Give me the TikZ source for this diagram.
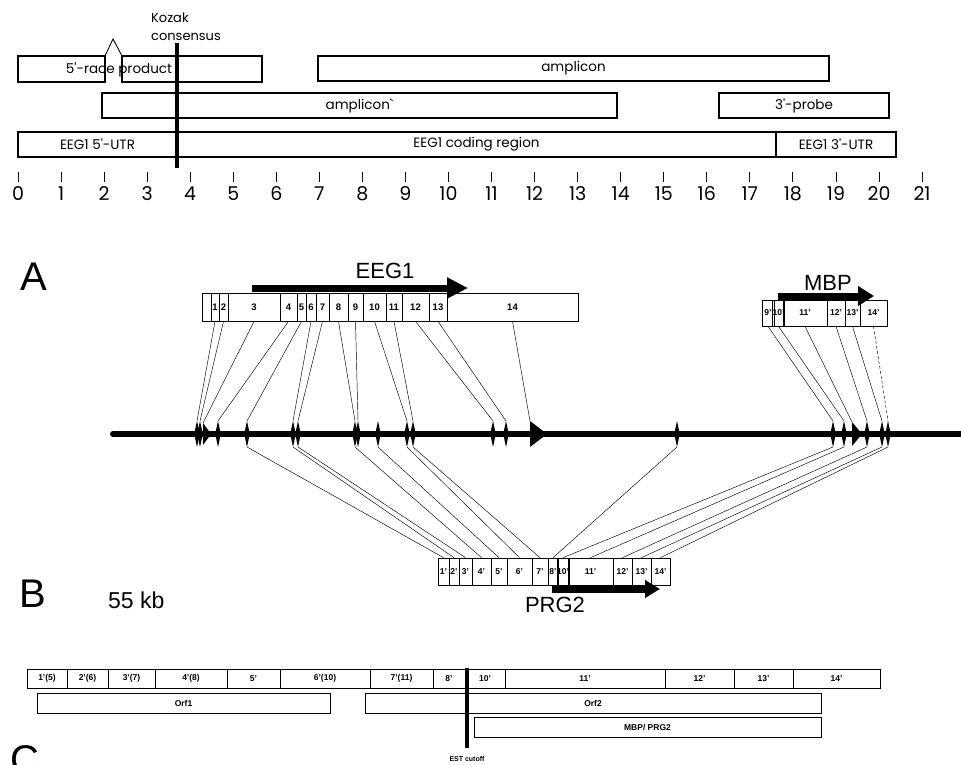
\documentclass[tikz,border=0pt]{standalone}
\usepackage{fontspec}
\setmainfont{Liberation Sans}
\newfontfamily\gothic{Poppins}
\usetikzlibrary{arrows.meta,positioning,calc}

\begin{document}
\begin{tikzpicture}[
    x=1pt, y=-1pt,
    every node/.style={inner sep=0pt},
    mapbox/.style={
        draw,
        line width=1.2pt,
        minimum height=25pt,
        font=\gothic\fontsize{13.5}{14}\selectfont
    },
    seg/.style={
        draw,
        line width=0.7pt,
        minimum height=28pt,
        font=\bfseries\fontsize{9.5}{10}\selectfont
    },
    pseg/.style={
        draw,
        line width=0.7pt,
        minimum height=27pt,
        font=\bfseries\fontsize{8.5}{9}\selectfont
    },
    cseg/.style={
        draw,
        line width=0.8pt,
        minimum height=19pt,
        font=\bfseries\fontsize{8.5}{9}\selectfont
    },
    link/.style={line width=0.45pt},
    num/.style={font=\gothic\fontsize{19}{19}\selectfont},
    panel/.style={font=\fontsize{40}{40}\selectfont},
    genename/.style={font=\fontsize{22}{22}\selectfont},
    fat/.style={line width=7pt, -{Triangle[length=21pt,width=20pt]}}
]
\useasboundingbox (0,0) rectangle (961,765);

% transcript map with scale
\draw[line width=1.2pt] (105,56) -- (18,56) -- (18,82) -- (105,82) -- cycle;
\draw[line width=1.2pt] (122,56) -- (262,56) -- (262,82) -- (122,82) -- cycle;
\draw[line width=0.9pt] (105,56) -- (113,39) -- (122,56);
\node[font=\gothic\fontsize{13.5}{14}\selectfont] (race) at (119,70) {5'-race product};

\node[mapbox, minimum width=511pt] (amp) at (573.5,68.5) {amplicon};
\node[mapbox, minimum width=515pt] (ampb) at (359.5,105.5) {amplicon\textasciigrave};
\node[mapbox, minimum width=170pt] (probe) at (804,105.5) {3'-probe};
\node[mapbox, minimum width=159pt] (utr5) at (97.5,144.5) {EEG1 5'-UTR};
\node[mapbox, minimum width=599pt] (coding) at (476.5,144.5) {EEG1 coding region};
\node[mapbox, minimum width=120pt] (utr3) at (836,144.5) {EEG1 3'-UTR};

\coordinate (kzT) at (177,43);
\coordinate (kzB) at (177,168);
\draw[line width=4.5pt] (kzT) -- (kzB);
\node[anchor=west, align=left, font=\gothic\fontsize{13}{18}\selectfont] (kozak) at (151,27)
{Kozak\\consensus};

\foreach \k in {0,...,21} {
    \draw[line width=0.9pt] ({18+43.05*\k},172) -- ++(0,10);
    \node[num] (n\k) at ({18+43.05*\k},194) {\k};
}

% panel letters
\node[panel] (lblA) at (34,277) {A};
\node[panel] (lblB) at (33,594) {B};
\node[panel] (lblC) at (25,760) {C};
\node[font=\fontsize{23}{23}\selectfont, anchor=west] (kb) at (108,600) {55 kb};

% EEG1 exons
\foreach \xa/\xb/\lab/\n in {202/211//s0, 211/219/1/s1, 219/228/2/s2, 228/280/3/s3,
    280/297/4/s4, 297/306/5/s5, 306/316/6/s6, 316/329/7/s7, 329/348/8/s8,
    348/363/9/s9, 363/386/10/s10, 386/402/11/s11, 402/429/12/s12,
    429/447/13/s13, 447/578/14/s14}
    \node[seg, minimum width={(\xb-\xa)*1pt}] (\n) at ({(\xa+\xb)/2},307) {\lab};
\coordinate (eegA) at (252,288);
\coordinate (eegB) at (468,288);
\draw[fat] (eegA) -- (eegB);
\node[genename] (eeg) at (385,271) {EEG1};

% MBP exons
\foreach \xa/\xb/\lab/\n in {762/774/9'/u9, 774/783/10'/u10, 783/827/11'/u11,
    827/845/12'/u12, 845/860/13'/u13, 860/887/14'/u14}
    \node[pseg, minimum width={(\xb-\xa)*1pt}, minimum height=26pt] (\n) at ({(\xa+\xb)/2},313) {\lab};
\coordinate (mbpA) at (778,296);
\coordinate (mbpB) at (874,296);
\draw[line width=7pt, -{Triangle[length=16pt,width=19pt]}] (mbpA) -- (mbpB);
\node[genename] (mbp) at (828,283) {MBP};

% chromosome
\coordinate (chrL) at (113,434);
\coordinate (chrR) at (961,434);
\draw[line width=6pt, line cap=round] (chrL) -- (chrR);
\foreach \n/\x in {a/197, b/200, d/218, e/247, f/293, g/298, h/355, i/358,
    j/378, k/407, l/413, m/493, n/506, p/677, q/833, r/844, t/867, u/882, v/888} {
    \fill (\x,421) -- (\x+2.8,434) -- (\x,447) -- (\x-2.8,434) -- cycle;
    \coordinate (m\n top) at (\x,421);
    \coordinate (m\n bot) at (\x,447);
}
\foreach \n/\x/\w/\h in {c/203/8/11, o/530/17/13, s/852/10/12} {
    \fill (\x,434-\h) -- (\x+\w,434) -- (\x,434+\h) -- cycle;
    \coordinate (m\n top) at (\x,434-\h);
    \coordinate (m\n bot) at (\x,434+\h);
}

% PRG2 exons
\foreach \xa/\xb/\lab/\n in {438/449/1'/p1, 449/459/2'/p2, 459/472/3'/p3,
    472/491/4'/p4, 491/507/5'/p5, 507/532/6'/p6, 532/548/7'/p7, 548/558/8'/p8,
    558/568/10'/p10, 568/613/11'/p11, 613/632/12'/p12, 632/651/13'/p13, 651/670/14'/p14}
    \node[pseg, minimum width={(\xb-\xa)*1pt}] (\n) at ({(\xa+\xb)/2},571.5) {\lab};
\coordinate (prgA) at (552,589);
\coordinate (prgB) at (660,589);
\draw[line width=8pt, -{Triangle[length=15pt,width=17pt]}] (prgA) -- (prgB);
\node[genename] (prg) at (555,605) {PRG2};

% exon correspondences
\foreach \a/\b in {s1/ma, s2/mb, s3/mc, s4/md, s5/me, s6/mf, s7/mg, s8/mh, s9/mi,
    s10/mk, s11/ml, s12/mm, s13/mn, s14/mo, u9/mq, u10/mr, u11/ms, u12/mt, u13/mu}
    \draw[link] (\a.south) -- (\b top);
\draw[link, densely dashed] (u14.south) -- (mvtop);
\foreach \a/\b in {me/p1, mf/p2, mg/p3, mh/p4, mj/p5, mk/p6, ml/p7, mp/p8,
    mq/p10, mr/p11, mt/p12, mu/p13, mv/p14}
    \draw[link] (\a bot) -- (\b.north);

% C: EST exon structure
\foreach \xa/\xb/\lab/\n in {27/67/1'(5)/c1, 67/108/2'(6)/c2, 108/155/3'(7)/c3,
    155/227/4'(8)/c4, 227/280/5'/c5, 280/370/6'(10)/c6, 370/433/7'(11)/c7,
    433/465/8'/c8, 465/505/10'/c10, 505/665/11'/c11, 665/734/12'/c12,
    734/793/13'/c13, 793/880/14'/c14}
    \node[cseg, minimum width={(\xb-\xa)*1pt}] (\n) at ({(\xa+\xb)/2},678.5) {\lab};
\node[cseg, minimum width=293pt, minimum height=20pt] (orf1) at (183.5,703) {Orf1};
\node[cseg, minimum width=456pt, minimum height=20pt] (orf2) at (593,703) {Orf2};
\node[cseg, minimum width=347pt, minimum height=20pt] (mbpprg) at (647.5,727) {MBP/ PRG2};
\coordinate (estT) at (467,668);
\coordinate (estB) at (467,748);
\draw[line width=4pt] (estT) -- (estB);
\node[font=\bfseries\fontsize{7}{7}\selectfont] (est) at (467,759) {EST cutoff};

\end{tikzpicture}
\end{document}
